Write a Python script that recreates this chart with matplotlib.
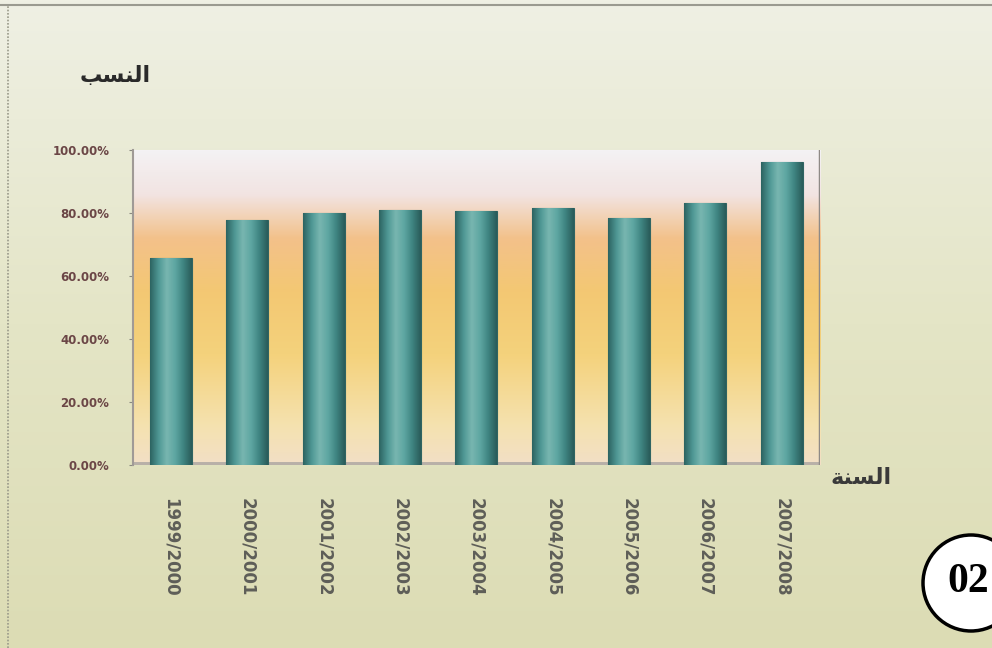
import numpy as np
import matplotlib
matplotlib.use("Agg")
import matplotlib.pyplot as plt
from matplotlib.colors import LinearSegmentedColormap
from matplotlib.patches import Circle

# ---- data ----
years = ["1999/2000", "2000/2001", "2001/2002", "2002/2003", "2003/2004",
         "2004/2005", "2005/2006", "2006/2007", "2007/2008"]
rates = [0.657, 0.778, 0.80, 0.81, 0.806, 0.816, 0.784, 0.832, 0.962]
yticks = [0.0, 0.2, 0.4, 0.6, 0.8, 1.0]
ytick_labels = ["0.00%", "20.00%", "40.00%", "60.00%", "80.00%", "100.00%"]
# Arabic labels written in presentation forms (visual order) so they join correctly
ylabel_text = "\uFE90\uFEB4\uFEE8\uFEDF\uFE8D"   # النسب
xlabel_text = "\uFE94\uFEE8\uFEB4\uFEDF\uFE8D"   # السنة
badge_text = "02"

fig = plt.figure(figsize=(9.92, 6.48), dpi=100)

# page background (scanned paper)
bg = fig.add_axes([0, 0, 1, 1], zorder=0)
bg_cmap = LinearSegmentedColormap.from_list("paper", ["#dcdcb4", "#e4e5c6", "#eff0e4"])
bg.imshow(np.linspace(0, 1, 256).reshape(-1, 1), aspect="auto", cmap=bg_cmap,
          origin="lower", extent=[0, 1, 0, 1])
bg.set_xlim(0, 1); bg.set_ylim(0, 1)
bg.axis("off")
bg.plot([0.008, 0.008], [0, 0.99], color="#9a9a8a", lw=1.2, ls=(0, (1, 1)))
bg.plot([0, 1], [0.992, 0.992], color="#9a9a90", lw=1.5)

ax = fig.add_axes([0.134, 0.2824, 0.6926, 0.4861], zorder=1)
n = len(years)
x = np.arange(n)

# plot-area gradient
grad_cmap = LinearSegmentedColormap.from_list(
    "wall", [(0.0, "#f2dfc6"), (0.12, "#f5e2b0"), (0.35, "#f4d27c"),
             (0.55, "#f3c873"), (0.72, "#f3c18a"), (0.86, "#f2e4e2"), (1.0, "#f4f2f4")])
ax.imshow(np.linspace(0, 1, 256).reshape(-1, 1), aspect="auto", cmap=grad_cmap,
          origin="lower", extent=[-0.5, n - 0.5, 0, 1.0], zorder=0)

bars = ax.bar(x, rates, width=0.55, color="#4f9b98", edgecolor="#2f6462",
              linewidth=0.8, zorder=2)
cyl_cmap = LinearSegmentedColormap.from_list(
    "cyl", ["#2d6462", "#4e9794", "#78b6b0", "#5ea6a2", "#3f8481", "#2a5c5a"])
for b in bars:
    bx, bw, bh = b.get_x(), b.get_width(), b.get_height()
    im = ax.imshow(np.linspace(0, 1, 64).reshape(1, -1), aspect="auto", cmap=cyl_cmap,
                   extent=[bx, bx + bw, 0, bh], zorder=3)
    im.set_clip_path(b)

# floor and walls
ax.axhline(0, color="#b8b0a8", lw=5, zorder=1.5)
ax.axvline(n - 0.5, color="#8f8a86", lw=2.5, zorder=4)

ax.set_xlim(-0.5, n - 0.5)
ax.set_ylim(0, 1.0)
ax.set_yticks(yticks)
ax.set_yticklabels(ytick_labels, fontsize=8.5, color="#6b4646", fontweight="bold")
ax.set_xticks(x)
ax.set_xticklabels(years, rotation=270, fontsize=12, color="#5e5e58", fontweight="bold")
ax.tick_params(axis="x", length=0, pad=24)
ax.tick_params(axis="y", length=3, color="#8a8a80", pad=14)
for s in ["top", "right", "bottom"]:
    ax.spines[s].set_visible(False)
ax.spines["left"].set_color("#a09a96")
ax.spines["left"].set_linewidth(1.5)

fig.text(0.116, 0.882, ylabel_text, fontsize=16, fontweight="bold", color="#2a2a2a",
         ha="center", va="center", family=["DejaVu Sans"])
fig.text(0.868, 0.262, xlabel_text, fontsize=16, fontweight="bold", color="#3a3a3a",
         ha="center", va="center", family=["DejaVu Sans"])

# badge
circ = Circle((971, 648 - 583), 48, transform=None, facecolor="white",
              edgecolor="black", lw=2.5, zorder=5)
fig.patches.append(circ)
fig.text(968 / 992, 1 - 582 / 648, badge_text, fontsize=30, fontweight="bold",
         family=["Liberation Serif"], ha="center", va="center", zorder=6)

fig.savefig("out.png", dpi=100)
